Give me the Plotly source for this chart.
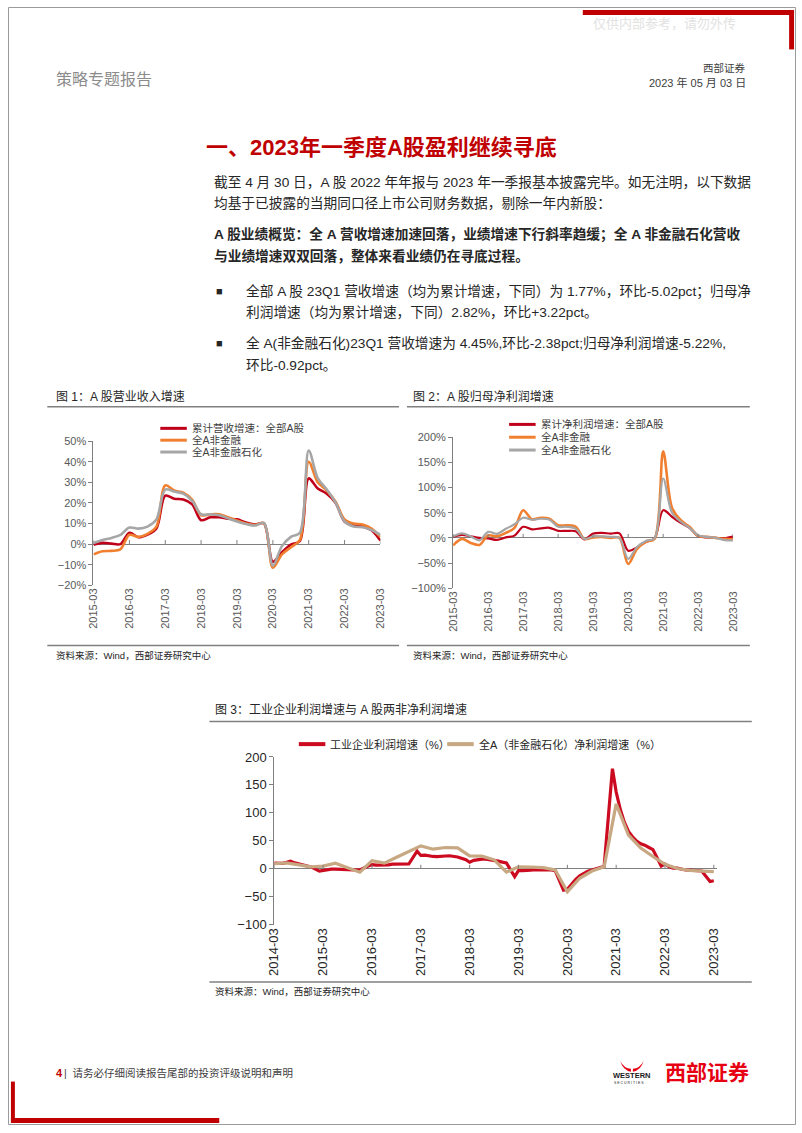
import plotly.graph_objects as go

W, H = 802, 1133
def X(p): return p / W
def Y(p): return 1 - p / H

# ---------------- data ----------------
quarters = [f"{y}-{m:02d}" for y in range(2015, 2024) for m in (3, 6, 9, 12)][:33]
year_ticks_1 = [f"{y}-03" for y in range(2015, 2024)]

rev_names = ["累计营收增速：全部A股", "全A非金融", "全A非金融石化"]
rev_all = [-0.3, 0.6, 0.2, 0.0, 5.5, 3.3, 4.6, 7.6, 23.5, 22.0, 21.7, 19.3, 11.6, 13.0, 13.0, 12.3,
           12.0, 10.5, 9.5, 10.0, -8.6, -4.0, -0.3, 1.5, 31.9, 27.0, 24.5, 20.0, 11.0, 9.2, 8.6, 6.79, 1.77]
rev_nonfin = [-5.0, -3.5, -3.3, -2.5, 4.5, 3.5, 5.0, 8.5, 28.5, 26.0, 25.0, 21.5, 14.0, 14.5, 14.5, 13.0,
              11.5, 10.0, 9.3, 10.2, -11.5, -5.0, -1.5, 2.0, 40.0, 30.0, 26.0, 20.5, 12.0, 10.0, 9.5, 7.5, 3.5]
rev_nonfin_pc = [0.5, 2.0, 3.0, 4.5, 8.0, 7.5, 8.5, 12.0, 26.5, 25.5, 24.5, 21.0, 14.5, 14.5, 14.0, 12.5,
                 11.0, 9.8, 9.0, 10.3, -10.5, -1.0, 3.5, 5.5, 45.5, 32.0, 26.5, 20.0, 11.0, 8.5, 8.2, 6.83, 4.45]

np_names = ["累计净利润增速：全部A股", "全A非金融", "全A非金融石化"]
np_all = [2, 6, 3, 0, -1, -4, 1, 4.5, 22, 17, 19, 20, 14, 14, 13, -3,
          8.5, 10, 8.5, 9, -25.5, -19, -8, -1, 55, 42, 30, 20, 3.5, 0.8, 0, -0.4, 2.82]
np_nonfin = [-15, -2, -10, -14, 5, 3, 10, 20, 55, 37, 40, 38, 25, 25, 22, -2,
             1, 2, 0, 0, -52, -22, -8, -2, 172, 60, 35, 22, 4, 2, 0, -2, -3]
np_nonfin_pc = [3, 9, 3, -5, 12, 8, 18, 27, 40, 36, 38, 36, 22, 22, 18, -2,
                3, 3, 2, 0, -42, -18, -6, -1, 118, 50, 32, 20, 5, 2, 0, -4.3, -5.22]

# chart 3: industrial profit (monthly, Jan merged into Feb) and A-share non-fin/petro profit (quarterly)
ind_months = (["2014-%02d" % m for m in range(3, 13)] +
              [f"{y}-{m:02d}" for y in range(2015, 2023) for m in range(2, 13)] +
              ["2023-02", "2023-03"])
ind_profit = [10.1, 9.6, 9.8, 11.4, 13.5, 10.5, 8.8, 6.7, 4.2, 3.3,
              -4.2, -2.7, -1.3, -0.8, -0.7, -1.0, -1.9, -1.7, -2.0, -1.9, -2.3,
              4.8, 7.4, 6.5, 6.4, 6.2, 6.9, 8.4, 8.4, 8.6, 9.4, 8.5,
              31.5, 23.8, 24.4, 22.7, 22.0, 21.6, 21.6, 22.8, 23.3, 21.9, 21.0,
              16.1, 11.6, 15.0, 16.5, 17.2, 17.1, 16.2, 14.7, 13.6, 11.8, 10.3,
              -14.0, -3.3, -3.4, -2.3, -2.4, -1.7, -1.7, -2.1, -2.9, -2.1, -3.3,
              -38.3, -36.7, -27.4, -19.3, -12.8, -8.1, -4.4, -2.4, 0.7, 2.4, 4.1,
              178.9, 137.3, 106.0, 83.4, 66.9, 57.3, 49.5, 44.7, 42.2, 38.0, 34.3,
              5.0, 8.5, 3.5, 1.0, 1.0, -1.1, -2.1, -2.3, -3.0, -3.6, -4.0,
              -22.9, -21.4]
a_quarters = [f"{y}-{m:02d}" for y in range(2014, 2024) for m in (3, 6, 9, 12)][:37]
a_profit = [9, 10.5, 7, 3.5, 4.7, 10, 2, -6, 14.5, 10, 20.5, 30.5, 41, 35, 38, 37.5,
            23, 22.5, 16, -6, 3.5, 3, 2, -2, -41, -17, -4, 3.5, 116, 60, 37, 22,
            8, 0.5, -3, -4.3, -5.22]
c3_names = ["工业企业利润增速（%）", "全A（非金融石化）净利润增速（%）"]
year_ticks_3 = [f"{y}-03" for y in range(2014, 2024)]

# ---------------- style ----------------
C_RED = "#C0001A"
C_ORG = "#F08030"
C_GRY = "#A6A6A6"
C3_RED = "#CC0A20"
C3_TAN = "#C8A883"
AX = "#7F7F7F"
LAT = "Liberation Sans, Arial, Noto Sans CJK SC"
CJK = "Liberation Sans, Noto Sans CJK SC"

def d(s):
    return s + "-01"

fig = go.Figure()

for ys, nm, col, w in [(rev_all, rev_names[0], C_RED, 2.6), (rev_nonfin, rev_names[1], C_ORG, 2.6),
                       (rev_nonfin_pc, rev_names[2], C_GRY, 2.6)]:
    fig.add_trace(go.Scatter(x=[d(q) for q in quarters], y=ys, name=nm, mode="lines",
                             line=dict(color=col, width=w, shape="spline", smoothing=0.9),
                             xaxis="x", yaxis="y", showlegend=False))
for ys, nm, col, w in [(np_all, np_names[0], C_RED, 2.2), (np_nonfin, np_names[1], C_ORG, 2.6),
                       (np_nonfin_pc, np_names[2], C_GRY, 2.2)]:
    fig.add_trace(go.Scatter(x=[d(q) for q in quarters], y=ys, name=nm, mode="lines",
                             line=dict(color=col, width=w, shape="spline", smoothing=0.9),
                             xaxis="x2", yaxis="y2", showlegend=False))
fig.add_trace(go.Scatter(x=[d(m) for m in ind_months], y=ind_profit, name=c3_names[0], mode="lines",
                         line=dict(color=C3_RED, width=3.2), xaxis="x3", yaxis="y3", showlegend=False))
fig.add_trace(go.Scatter(x=[d(q) for q in a_quarters], y=a_profit, name=c3_names[1], mode="lines",
                         line=dict(color=C3_TAN, width=3.2), xaxis="x3", yaxis="y3", showlegend=False))

def xax(dom, rng, ticks, size, color, anchor):
    return dict(domain=dom, anchor=anchor, type="date", range=rng,
                tickvals=[d(t) for t in ticks], ticktext=ticks, tickangle=-90,
                tickfont=dict(family=LAT, size=size, color=color),
                showline=False, ticks="", showgrid=False, zeroline=False, fixedrange=True)

def yax(dom, rng, dtick, suffix, size, color, anchor):
    return dict(domain=dom, anchor=anchor, range=rng, dtick=dtick, ticksuffix=suffix,
                tickfont=dict(family=LAT, size=size, color=color),
                showline=True, linecolor=AX, linewidth=1, ticks="outside", ticklen=4,
                tickcolor=AX, showgrid=False, zeroline=True, zerolinecolor=AX,
                zerolinewidth=1, fixedrange=True)

fig.update_layout(
    width=W, height=H, margin=dict(l=0, r=0, t=0, b=0),
    paper_bgcolor="white", plot_bgcolor="rgba(0,0,0,0)",
    xaxis=xax([X(87), X(379)], [d(quarters[0]), d(quarters[-1])], year_ticks_1, 11, "#595959", "y"),
    yaxis=yax([Y(586), Y(440)], [-20, 50], 10, "%", 11, "#595959", "x"),
    xaxis2=xax([X(453), X(738)], [d(quarters[0]), d(quarters[-1])], year_ticks_1, 11, "#595959", "y2"),
    yaxis2=yax([Y(589), Y(436)], [-100, 200], 50, "%", 11, "#595959", "x2"),
    xaxis3=xax([X(271), X(722)], ["2014-03-01", "2023-03-28"], year_ticks_3, 13, "#262626", "y3"),
    yaxis3=yax([Y(930), Y(760)], [-100, 200], 50, "", 13, "#262626", "x3"),
)

shapes = []
# tick marks on the zero lines (pointing up)
for xa, ya, ticks in [("x", "y", year_ticks_1), ("x2", "y2", year_ticks_1), ("x3", "y3", year_ticks_3)]:
    for t in ticks:
        shapes.append(dict(type="line", xref=xa, yref=ya, x0=d(t), x1=d(t), ysizemode="pixel",
                           yanchor=0, y0=0, y1=4, line=dict(color=AX, width=1)))

def pline(x0, y0, x1, y1, color, width):
    shapes.append(dict(type="line", xref="paper", yref="paper", x0=X(x0), x1=X(x1),
                       y0=Y(y0), y1=Y(y1), line=dict(color=color, width=width)))

def prect(x0, y0, x1, y1, color):
    shapes.append(dict(type="rect", xref="paper", yref="paper", x0=X(x0), x1=X(x1),
                       y0=Y(y1), y1=Y(y0), fillcolor=color, line=dict(width=0)))

# page frame and red decorations
shapes.append(dict(type="rect", xref="paper", yref="paper", x0=X(0.5), x1=X(801.5), y0=Y(1132.5), y1=Y(0.5),
                   line=dict(color="#9A9A9A", width=1)))
prect(585, 3, 800, 8, "#C00000")
prect(795, 3, 800, 43, "#C00000")
prect(3, 1089, 7, 1131, "#C00000")
prect(3, 1126, 215, 1131, "#C00000")

# chart frames
pline(40, 405, 398, 405, "#808080", 1.5)
pline(40, 647, 398, 647, "#808080", 1.5)
pline(406, 405, 755, 405, "#808080", 1.5)
pline(406, 647, 755, 647, "#808080", 1.5)
pline(205, 724, 757, 724, "#808080", 1.5)
pline(205, 988, 757, 988, "#808080", 1.5)

ann = []
def txt(x, y, s, size, color="#262626", anchor="left", family=CJK):
    ann.append(dict(xref="paper", yref="paper", x=X(x), y=Y(y), text=s, showarrow=False,
                    xanchor=anchor, yanchor="middle", font=dict(family=family, size=size, color=color)))

# custom legends
for names, cols, x0, ys, wl in [(rev_names, [C_RED, C_ORG, C_GRY], 155, [427, 439, 451], 3),
                                (np_names, [C_RED, C_ORG, C_GRY], 510, [423, 436, 449], 3)]:
    for nm, col, yy in zip(names, cols, ys):
        pline(x0, yy, x0 + 27, yy, col, wl)
        txt(x0 + 30, yy, nm, 10.5, "#404040")
for nm, col, x0 in zip(c3_names, [C3_RED, C3_TAN], [296, 447]):
    pline(x0, 747, x0 + 27, 747, col, 4)
    txt(x0 + 30, 747, nm, 11, "#262626")

# header
txt(593, 17, "仅供内部参考，请勿外传", 13, "#E2E2E2")
txt(47, 73, "策略专题报告", 16, "#8C8C8C")
txt(753, 62, "西部证券", 10.5, "#404040", "right")
txt(753, 77, "2023 年 05 月 03 日", 11, "#404040", "right")
txt(380, 142, "<b>一、2023年一季度A股盈利继续寻底</b>", 22, "#C00000", "center")

body = 13.7
txt(208, 177, "截至 4 月 30 日，A 股 2022 年年报与 2023 年一季报基本披露完毕。如无注明，以下数据", body)
txt(208, 199, "均基于已披露的当期同口径上市公司财务数据，剔除一年内新股：", body)
txt(208, 231, "<b>A 股业绩概览：全 A 营收增速加速回落，业绩增速下行斜率趋缓；全 A 非金融石化营收</b>", body)
txt(208, 252, "<b>与业绩增速双双回落，整体来看业绩仍在寻底过程。</b>", body)
txt(210, 288, "■", 11)
txt(240, 288, "全部 A 股 23Q1 营收增速（均为累计增速，下同）为 1.77%，环比-5.02pct；归母净", body)
txt(240, 310, "利润增速（均为累计增速，下同）2.82%，环比+3.22pct。", body)
txt(210, 341, "■", 11)
txt(240, 341, "全 A(非金融石化)23Q1 营收增速为 4.45%,环比-2.38pct;归母净利润增速-5.22%,", body)
txt(240, 363, "环比-0.92pct。", body)

# chart titles / sources
txt(47, 395, "图 1：A 股营业收入增速", 12)
txt(410, 395, "图 2：A 股归母净利润增速", 12)
txt(209, 712, "图 3：工业企业利润增速与 A 股两非净利润增速", 12)
txt(47, 657, "资料来源：Wind，西部证券研究中心", 9.5)
txt(410, 657, "资料来源：Wind，西部证券研究中心", 9.5)
txt(209, 998, "资料来源：Wind，西部证券研究中心", 9.5)

# footer
txt(47, 1080, "<b>4</b>", 11, "#C00000")
txt(55, 1080, "|  请务必仔细阅读报告尾部的投资评级说明和声明", 10.5, "#404040")
txt(667, 1080, "<b>西部证券</b>", 21, "#E60012")
txt(614, 1083, "<b>WESTERN</b>", 7.5, "#1A1A1A", family="Liberation Sans")
txt(615, 1090, "S E C U R I T I E S", 3.5, "#1A1A1A", family="Liberation Sans")
shapes.append(dict(type="path", xref="paper", yref="paper",
                   path=(f"M {X(623)},{Y(1068)} Q {X(627)},{Y(1076)} {X(634)},{Y(1076)} "
                         f"L {X(634)},{Y(1079)} Q {X(626)},{Y(1078)} {X(623)},{Y(1068)} Z "
                         f"M {X(647)},{Y(1068)} Q {X(643)},{Y(1076)} {X(636)},{Y(1076)} "
                         f"L {X(636)},{Y(1079)} Q {X(644)},{Y(1078)} {X(647)},{Y(1068)} Z"),
                   fillcolor="#E60012", line=dict(width=0)))

fig.update_layout(shapes=shapes, annotations=ann)
fig.write_html("out.html")
